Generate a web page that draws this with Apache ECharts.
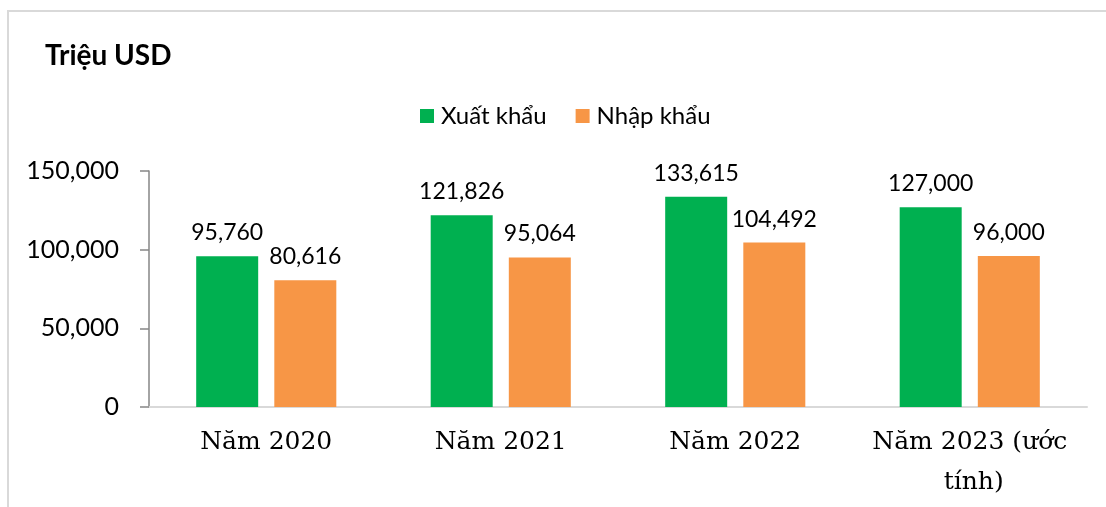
<!DOCTYPE html>
<html>
<head>
<meta charset="utf-8">
<script src="https://cdn.jsdelivr.net/npm/echarts@6/dist/echarts.min.js"></script>
<style>
html,body{margin:0;padding:0;background:#fff;}
#chart{width:1106px;height:507px;}
</style>
</head>
<body>
<div id="chart"></div>
<script>
const categories = ['Năm 2020', 'Năm 2021', 'Năm 2022', 'Năm 2023 (ước tính)'];
const exportValues = [95760, 121826, 133615, 127000];
const importValues = [80616, 95064, 104492, 96000];
const seriesNames = ['Xuất khẩu', 'Nhập khẩu'];
const yTicks = [0, 50000, 100000, 150000];
const unitTitle = 'Triệu USD';

const fmt = v => v.toLocaleString('en-US');
const chart = echarts.init(document.getElementById('chart'), null, {renderer: 'canvas'});
const labelStyle = {
  show: true, position: 'top', distance: 12,
  fontFamily: 'Lato', fontSize: 23, color: '#000',
  formatter: p => fmt(p.value)
};
chart.setOption({
  animation: false,
  backgroundColor: '#fff',
  graphic: [{
    type: 'rect', shape: {x: 8, y: 11, width: 1300, height: 700},
    style: {fill: 'none', stroke: '#D9D9D9', lineWidth: 2}, silent: true
  }],
  title: {
    text: unitTitle, left: 40, top: 37,
    textStyle: {fontFamily: 'Lato', fontWeight: 'bold', fontSize: 28, color: '#000'}
  },
  legend: {
    data: seriesNames, left: 415, top: 99,
    itemWidth: 14, itemHeight: 14, itemGap: 29, icon: 'rect',
    textStyle: {fontFamily: 'Lato', fontSize: 24, color: '#000', padding: [0, 0, 0, 2]}
  },
  grid: {left: 149, right: 19, top: 171, bottom: 100, containLabel: false},
  xAxis: {
    type: 'category', data: categories,
    axisLine: {lineStyle: {color: '#D9D9D9', width: 2}},
    axisTick: {show: false},
    axisLabel: {
      fontFamily: 'DejaVu Serif', fontSize: 25, color: '#000', margin: 15,
      lineHeight: 40, width: 230, overflow: 'break', interval: 0
    }
  },
  yAxis: {
    type: 'value', min: yTicks[0], max: yTicks[yTicks.length - 1], interval: 50000,
    axisLine: {show: true, lineStyle: {color: '#868686', width: 1.5}},
    axisTick: {show: true, length: 9, lineStyle: {color: '#868686', width: 1.5}},
    splitLine: {show: false},
    axisLabel: {fontFamily: 'Lato', fontSize: 25, color: '#000', margin: 30, formatter: v => fmt(v)}
  },
  series: [
    {name: seriesNames[0], type: 'bar', data: exportValues, barWidth: 62, barGap: '26%',
     itemStyle: {color: '#00B050'}, label: labelStyle},
    {name: seriesNames[1], type: 'bar', data: importValues, barWidth: 62,
     itemStyle: {color: '#F79646'}, label: labelStyle}
  ]
});
</script>
</body>
</html>
